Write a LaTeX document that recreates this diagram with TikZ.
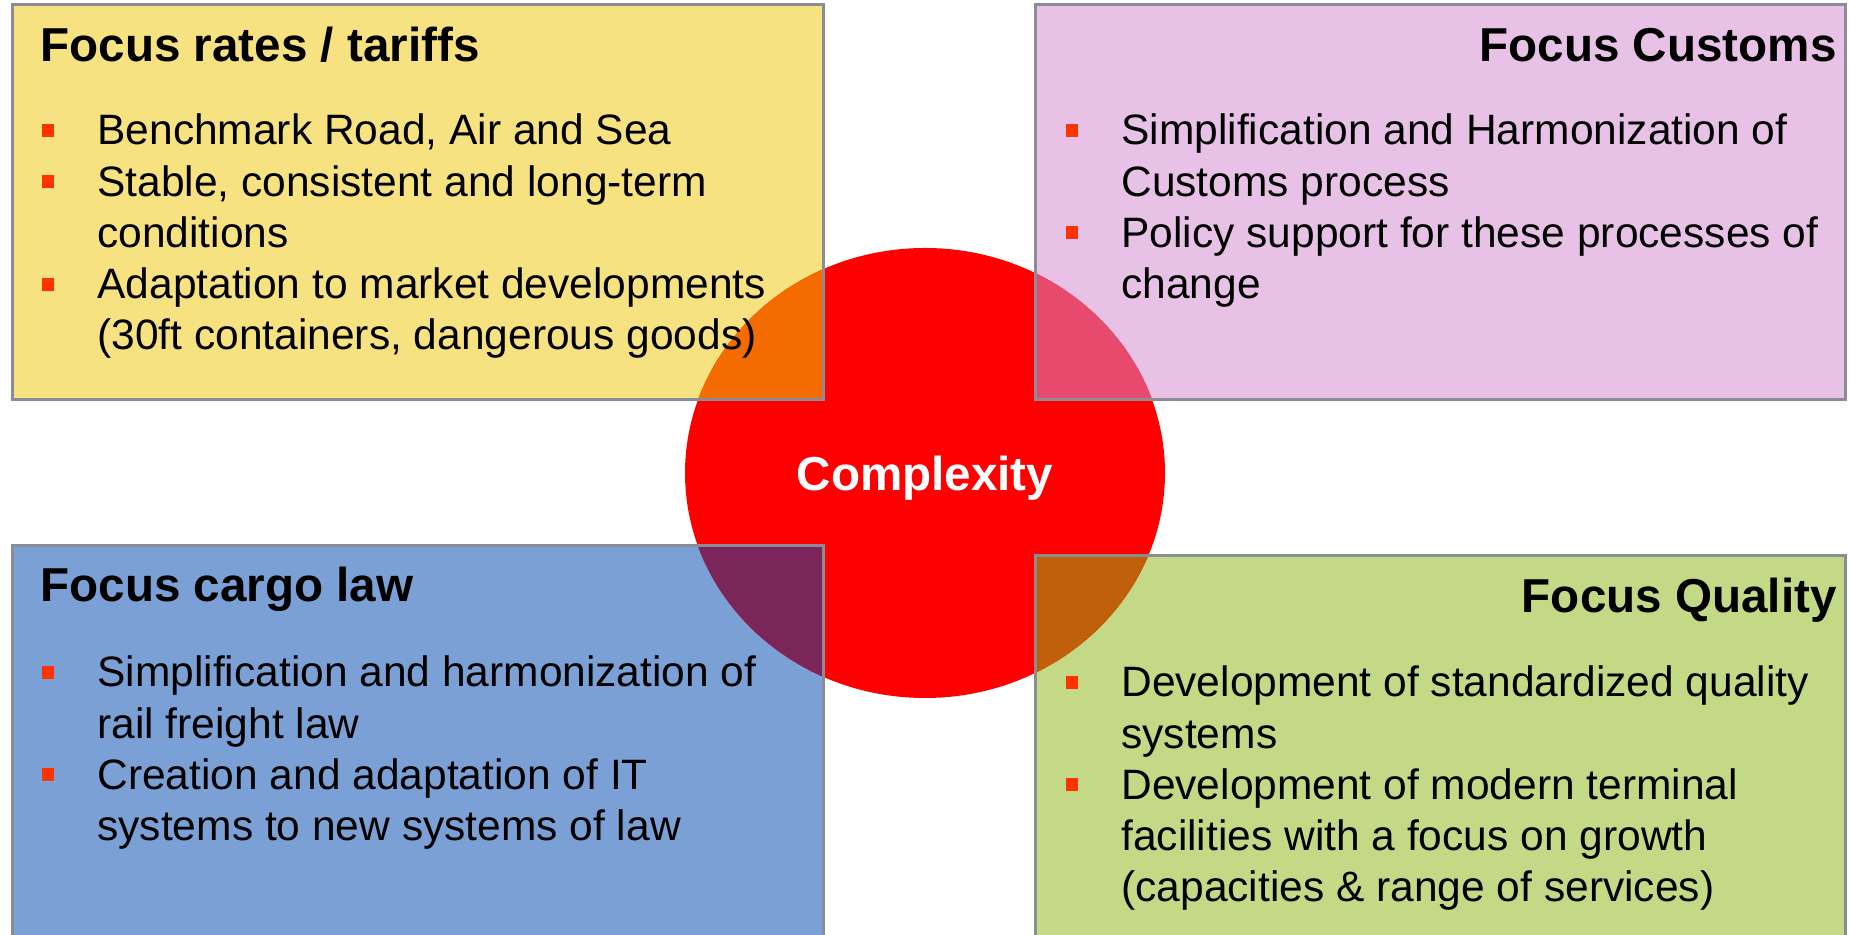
\documentclass[tikz,border=0pt]{standalone}
\usepackage{fontspec}
\setmainfont{Liberation Sans}

\definecolor{ratesfill}{HTML}{F7E282}
\definecolor{customsfill}{HTML}{E8C2E6}
\definecolor{cargofill}{HTML}{7BA0D5}
\definecolor{qualityfill}{HTML}{C4D985}
\definecolor{ratesred}{HTML}{F46B00}
\definecolor{customsred}{HTML}{E84A6E}
\definecolor{cargored}{HTML}{7B265B}
\definecolor{qualityred}{HTML}{C1600A}
\definecolor{boxgray}{HTML}{8C8C96}
\definecolor{bulletred}{HTML}{FF3300}

\begin{document}
\begin{tikzpicture}[x=0.5pt,y=0.5pt,
    box/.style={draw=boxgray,line width=1.5pt},
    title/.style={inner sep=0,font=\fontsize{23.8}{28}\selectfont\bfseries},
    body/.style={inner sep=0,anchor=base west,font=\fontsize{21.25}{25.5}\selectfont},
    bullet/.style={fill=bulletred,minimum width=6pt,minimum height=6.5pt,inner sep=0}]
        \useasboundingbox (0,0) rectangle (1850,935);

        % Fill the four boxes
        \fill[ratesfill] (12,535) rectangle (823,930);
        \fill[customsfill] (1035,535) rectangle (1845,930);
        \fill[cargofill] (12,-10) rectangle (823,389);
        \fill[qualityfill] (1035,-10) rectangle (1845,379);

        % The circle and its overlaps with the boxes
        \fill[red] (925,462) ellipse [x radius=240, y radius=225];
        \begin{scope}
            \clip (925,462) ellipse [x radius=240, y radius=225];
            \fill[ratesred] (12,535) rectangle (823,930);
            \fill[customsred] (1035,535) rectangle (1845,930);
            \fill[cargored] (12,-10) rectangle (823,389);
            \fill[qualityred] (1035,-10) rectangle (1845,379);
        \end{scope}

        % Box borders
        \draw[box] (12,535) rectangle (823,930);
        \draw[box] (1035,535) rectangle (1845,930);
        \draw[box] (12,-10) rectangle (823,389);
        \draw[box] (1035,-10) rectangle (1845,379);

        % Titles
        \node[title,anchor=base west] (rates) at (40,873) {Focus rates / tariffs};
        \node[title,anchor=base east] (customs) at (1837,873) {Focus Customs};
        \node[title,anchor=base west] (cargo) at (40,333) {Focus cargo law};
        \node[title,anchor=base east] (quality) at (1837,322) {Focus Quality};
        \node[title,anchor=base,text=white] (complexity) at (925,444) {Complexity};

        % Focus rates / tariffs
        \foreach \txt [count=\i] in {{Benchmark Road, Air and Sea},
            {Stable, consistent and long-term}, conditions,
            Adaptation to market developments,
            {(30ft containers, dangerous goods)}}
            \node[body] (rates\i) at ({97},{790-51.25*(\i-1)}) {\txt};
        \foreach \i in {1,2,4}
            \node[bullet] (ratesb\i) at ({48},{804.5-51.25*(\i-1)}) {};

        % Focus Customs
        \foreach \txt [count=\i] in {Simplification and Harmonization of,
            Customs process, Policy support for these processes of, change}
            \node[body] (customs\i) at ({1121},{790-51.25*(\i-1)}) {\txt};
        \foreach \i in {1,3}
            \node[bullet] (customsb\i) at ({1071.5},{804.5-51.25*(\i-1)}) {};

        % Focus cargo law
        \foreach \txt [count=\i] in {Simplification and harmonization of,
            rail freight law, Creation and adaptation of IT,
            systems to new systems of law}
            \node[body] (cargo\i) at ({97},{248-51.25*(\i-1)}) {\txt};
        \foreach \i in {1,3}
            \node[bullet] (cargob\i) at ({48},{262.5-51.25*(\i-1)}) {};

        % Focus Quality
        \foreach \txt [count=\i] in {Development of standardized quality,
            systems, Development of modern terminal,
            facilities with a focus on growth,
            (capacities \& range of services)}
            \node[body] (quality\i) at ({1121},{238-51.25*(\i-1)}) {\txt};
        \foreach \i in {1,3}
            \node[bullet] (qualityb\i) at ({1071.5},{252.5-51.25*(\i-1)}) {};
    \end{tikzpicture}
\end{document}
